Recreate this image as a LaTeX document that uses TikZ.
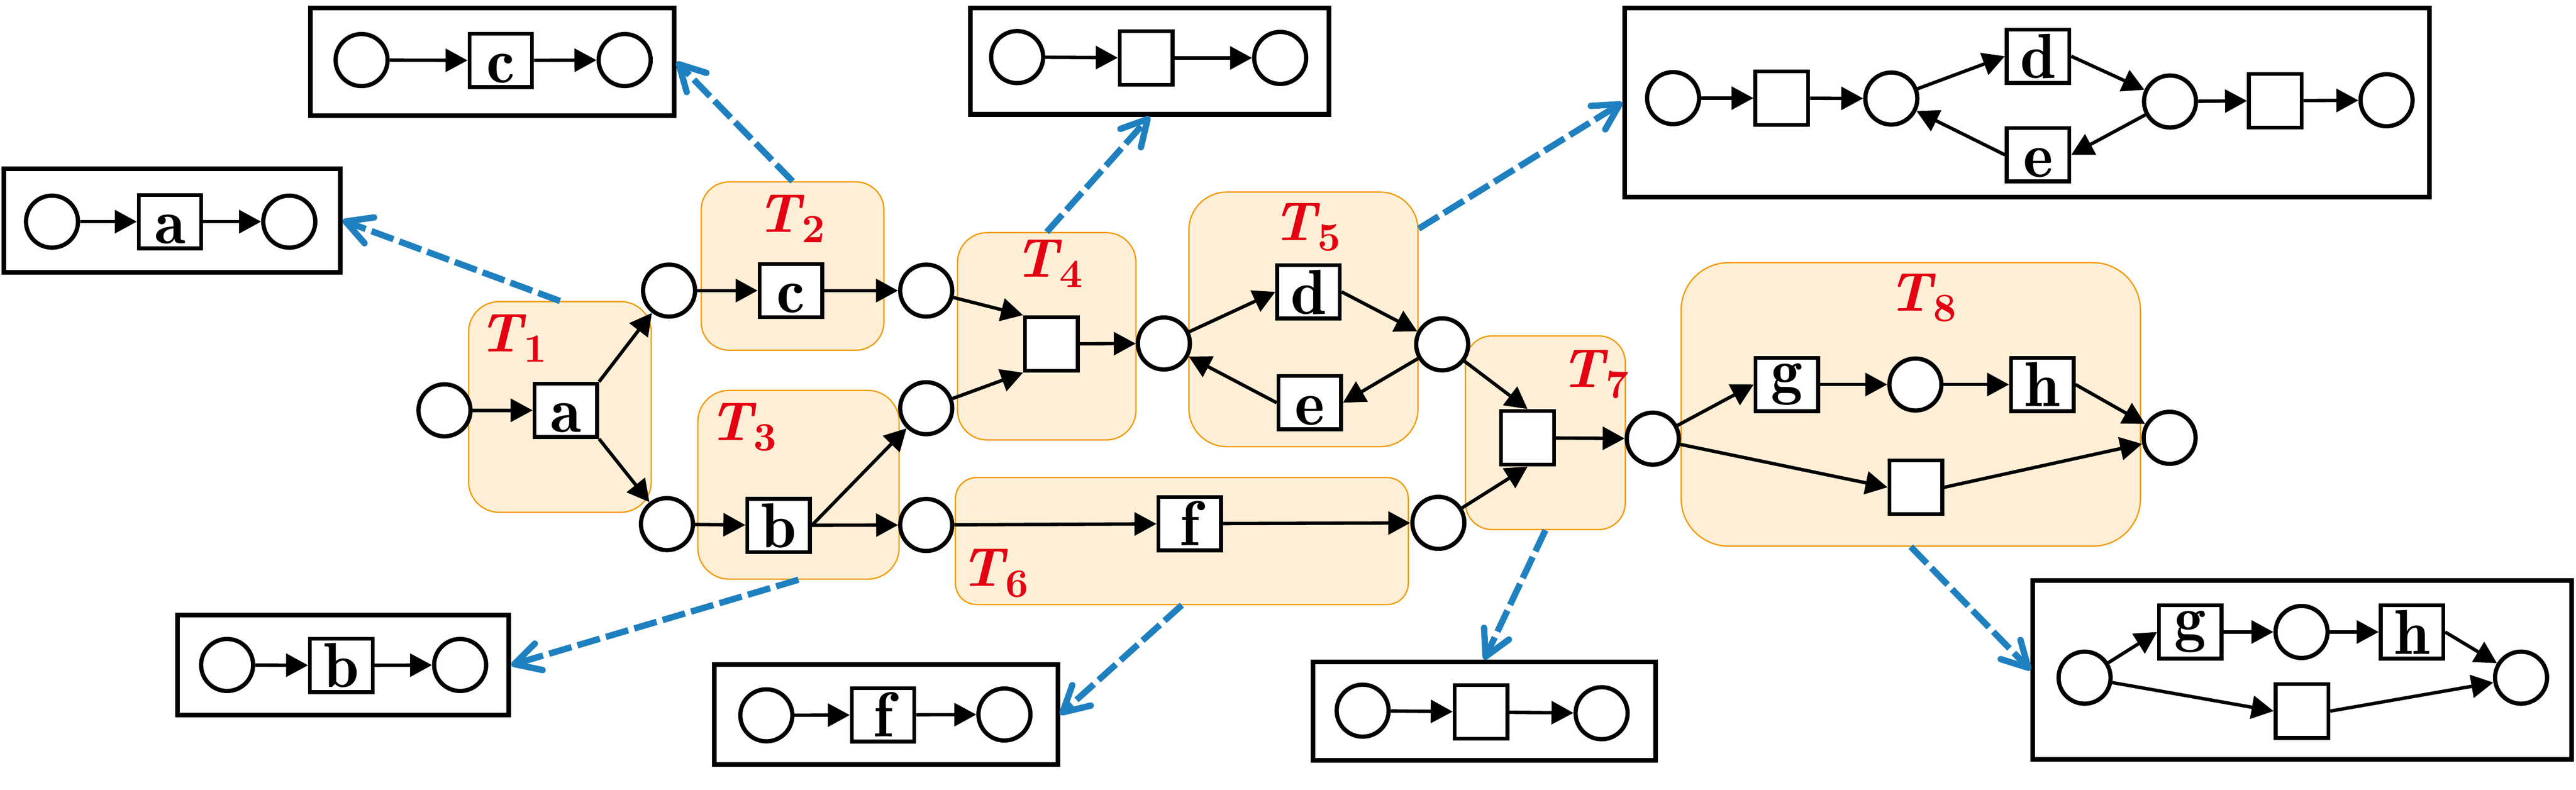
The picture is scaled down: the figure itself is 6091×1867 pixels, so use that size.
\documentclass[tikz,border=0pt]{standalone}
\usetikzlibrary{arrows.meta,calc}
\definecolor{tfill}{RGB}{254,239,214}
\definecolor{tline}{RGB}{243,152,0}
\definecolor{dblue}{RGB}{31,128,192}
\definecolor{tred}{RGB}{228,0,18}
\newcommand{\Tl}[1]{{\bfseries\itshape T}\kern0.3pt\raisebox{-2.5pt}{\fontsize{9.5}{10}\selectfont\bfseries #1}}
\begin{document}
\begin{tikzpicture}[x=0.1pt,y=-0.1pt,
 plc/.style={circle,draw,line width=1.0pt,fill=white,minimum size=12.3pt,inner sep=0pt},
 trn/.style={rectangle,draw,line width=0.9pt,fill=white,minimum width=14.8pt,minimum height=12.6pt,inner sep=0pt,font=\fontsize{15}{18}\fontseries{b}\selectfont,text height=10.4pt,text depth=0pt},
 etrn/.style={rectangle,draw,line width=0.9pt,fill=white,minimum width=12.5pt,minimum height=12.7pt,inner sep=0pt},
 tbox/.style={rectangle,draw=tline,line width=0.3pt,fill=tfill,inner sep=0pt},
 inset/.style={rectangle,draw,line width=1.1pt,inner sep=0pt},
 arc/.style={line width=0.8pt,-{Triangle[length=5.2pt,width=5.4pt]}},
 link/.style={draw=dblue,line width=1.5pt,dash pattern=on 5.5pt off 1.5pt,-{Straight Barb[length=6pt,width=6.5pt,round]}},
 tlab/.style={text=tred,inner sep=0pt,font=\fontsize{13}{15}\selectfont},
 gtxt/.style={text height=6.6pt,text depth=2.9pt}
]
\useasboundingbox (0,0) rectangle (6091,1867);
% T boxes
\node[tbox,minimum width=43.2pt,minimum height=49.8pt,rounded corners=7.2pt] (T1) at (1324,962) {};
\node[tbox,minimum width=43.2pt,minimum height=39.8pt,rounded corners=6.6pt] (T2) at (1874,629) {};
\node[tbox,minimum width=47.6pt,minimum height=44.6pt,rounded corners=7.4pt] (T3) at (1888,1146) {};
\node[tbox,minimum width=42.2pt,minimum height=49.0pt,rounded corners=7.0pt] (T4) at (2475,795) {};
\node[tbox,minimum width=54.2pt,minimum height=60.2pt,rounded corners=9.0pt] (T5) at (3082,755) {};
\node[tbox,minimum width=107.1pt,minimum height=30.0pt,rounded corners=5.0pt] (T6) at (2794.5,1279) {};
\node[tbox,minimum width=37.8pt,minimum height=45.8pt,rounded corners=6.3pt] (T7) at (3654,1023) {};
\node[tbox,minimum width=108.6pt,minimum height=67.0pt,rounded corners=11.2pt] (T8) at (4518,956) {};
% T labels
\node[tlab] (L1) at (1212,800) {\Tl{1}};
\node[tlab] (L2) at (1870,517) {\Tl{2}};
\node[tlab] (L3) at (1756,1010) {\Tl{3}};
\node[tlab] (L4) at (2479,623) {\Tl{4}};
\node[tlab] (L5) at (3089,537) {\Tl{5}};
\node[tlab] (L6) at (2351,1355) {\Tl{6}};
\node[tlab] (L7) at (3770,885) {\Tl{7}};
\node[tlab] (L8) at (4545,704) {\Tl{8}};
% main net
\node[plc] (p0) at (1051,970) {};
\node[trn] (a) at (1338,970) {a};
\node[plc] (p1) at (1582,687) {};
\node[plc] (p2) at (1577,1239) {};
\node[trn] (c) at (1870,687) {c};
\node[trn] (b) at (1841,1242) {b};
\node[plc] (p3) at (2190,687) {};
\node[plc] (p4) at (2190,965) {};
\node[plc] (p5) at (2190,1241) {};
\node[etrn] (t4) at (2486,813) {};
\node[plc] (p6) at (2752,812) {};
\node[trn] (d) at (3094,690) {d};
\node[trn] (e) at (3097,952) {e};
\node[plc] (p7) at (3410,814) {};
\node[trn] (f) at (2813,1238) {f};
\node[plc] (p8) at (3401,1236) {};
\node[etrn] (t7) at (3612,1035) {};
\node[plc] (p9) at (3908,1037) {};
\node[trn,gtxt] (g) at (4225,909) {g};
\node[plc] (p10) at (4529,909) {};
\node[trn] (h) at (4829,909) {h};
\node[plc] (p11) at (5130,1035) {};
\node[etrn] (t8) at (4530,1152) {};
\draw[arc] (p0)--(a);
\draw[arc] (a.north east)--(p1);
\draw[arc] (a.south east)--(p2);
\draw[arc] (p1)--(c);
\draw[arc] (c)--(p3);
\draw[arc] (p2)--(b);
\draw[arc] (b)--(p5);
\draw[arc] (b.east)--(p4);
\draw[arc] (p3)--(t4.north west);
\draw[arc] (p4)--(t4.south west);
\draw[arc] (t4)--(p6);
\draw[arc] (p6)--(d.west);
\draw[arc] (d.east)--(p7);
\draw[arc] (p7)--(e.east);
\draw[arc] (e.west)--(p6);
\draw[arc] (p5)--(f);
\draw[arc] (f)--(p8);
\draw[arc] (p7)--(t7.north);
\draw[arc] (p8)--(t7.south);
\draw[arc] (t7)--(p9);
\draw[arc] (p9)--(g.west);
\draw[arc] (g)--(p10);
\draw[arc] (p10)--(h);
\draw[arc] (h.east)--(p11);
\draw[arc] (p9)--(t8.west);
\draw[arc] (t8.east)--(p11);
% inset A
\node[inset,minimum width=79.5pt,minimum height=24.5pt] (fA) at (407,521) {};
\node[plc] (a1) at (123,524) {};
\node[trn] (a2) at (402,524) {a};
\node[plc] (a3) at (684,524) {};
\draw[arc] (a1)--(a2); \draw[arc] (a2)--(a3);
% inset C
\node[inset,minimum width=86.1pt,minimum height=25.4pt] (fC) at (1164,146.5) {};
\node[plc] (c1) at (855,142) {};
\node[trn] (c2) at (1184,143) {c};
\node[plc] (c3) at (1477,142) {};
\draw[arc] (c1)--(c2); \draw[arc] (c2)--(c3);
% inset B
\node[inset,minimum width=78.4pt,minimum height=23.7pt] (fB) at (811.5,1572) {};
\node[plc] (b1) at (537,1572) {};
\node[trn] (b2) at (807,1573) {b};
\node[plc] (b3) at (1088,1572) {};
\draw[arc] (b1)--(b2); \draw[arc] (b2)--(b3);
% inset F
\node[inset,minimum width=81.2pt,minimum height=23.7pt] (fF) at (2095.5,1689) {};
\node[plc] (f1) at (1812,1691) {};
\node[trn] (f2) at (2088,1690) {f};
\node[plc] (f3) at (2375,1689) {};
\draw[arc] (f1)--(f2); \draw[arc] (f2)--(f3);
% inset 4
\node[inset,minimum width=84.8pt,minimum height=25.2pt] (f4) at (2718.5,144.5) {};
\node[plc] (q1) at (2405,135) {};
\node[etrn] (q2) at (2710,137) {};
\node[plc] (q3) at (3027,137) {};
\draw[arc] (q1)--(q2); \draw[arc] (q2)--(q3);
% inset 7
\node[inset,minimum width=81.0pt,minimum height=23.3pt] (f7) at (3509.5,1681) {};
\node[plc] (r1) at (3222,1680) {};
\node[etrn] (r2) at (3502,1683) {};
\node[plc] (r3) at (3787,1686) {};
\draw[arc] (r1)--(r2); \draw[arc] (r2)--(r3);
% inset 5
\node[inset,minimum width=190.3pt,minimum height=44.8pt] (f5) at (4793,242.5) {};
\node[plc] (s1) at (3956,232) {};
\node[etrn] (s2) at (4213,232) {};
\node[plc] (s3) at (4472,233) {};
\node[trn] (s4) at (4819,133) {d};
\node[trn] (s5) at (4819,366) {e};
\node[plc] (s6) at (5131,240) {};
\node[etrn] (s7) at (5380,238) {};
\node[plc] (s8) at (5643,237) {};
\draw[arc] (s1)--(s2); \draw[arc] (s2)--(s3);
\draw[arc] (s3)--(s4.west); \draw[arc] (s4.east)--(s6);
\draw[arc] (s6)--(s5.east); \draw[arc] (s5.west)--(s3);
\draw[arc] (s6)--(s7); \draw[arc] (s7)--(s8);
% inset 8
\node[inset,minimum width=127.4pt,minimum height=42.3pt] (f8) at (5443.5,1584) {};
\node[plc] (u1) at (4929,1602) {};
\node[trn,gtxt] (u2) at (5179,1494) {g};
\node[plc] (u3) at (5442,1494) {};
\node[trn] (u4) at (5703,1494) {h};
\node[plc] (u5) at (5961,1602) {};
\node[etrn] (u6) at (5443,1681) {};
\draw[arc] (u1)--(u2.west); \draw[arc] (u2)--(u3);
\draw[arc] (u3)--(u4); \draw[arc] (u4.east)--(u5);
\draw[arc] (u1)--(u6.west); \draw[arc] (u6.east)--(u5);
% dashed links
\coordinate (t5s) at ($(T5.north east)+(0,88)$);
\draw[link] (T1.north) -- (fA.east);
\draw[link] (T2.north) -- (fC.east);
\draw[link] (T3.south) -- (fB.east);
\draw[link] (T4.north) -- (f4.south);
\draw[link] (t5s) -- (f5.west);
\draw[link] (T6.south) -- (fF.east);
\draw[link] (T7.south) -- (f7.north);
\draw[link] (T8.south) -- (f8.west);
\end{tikzpicture}
\end{document}
